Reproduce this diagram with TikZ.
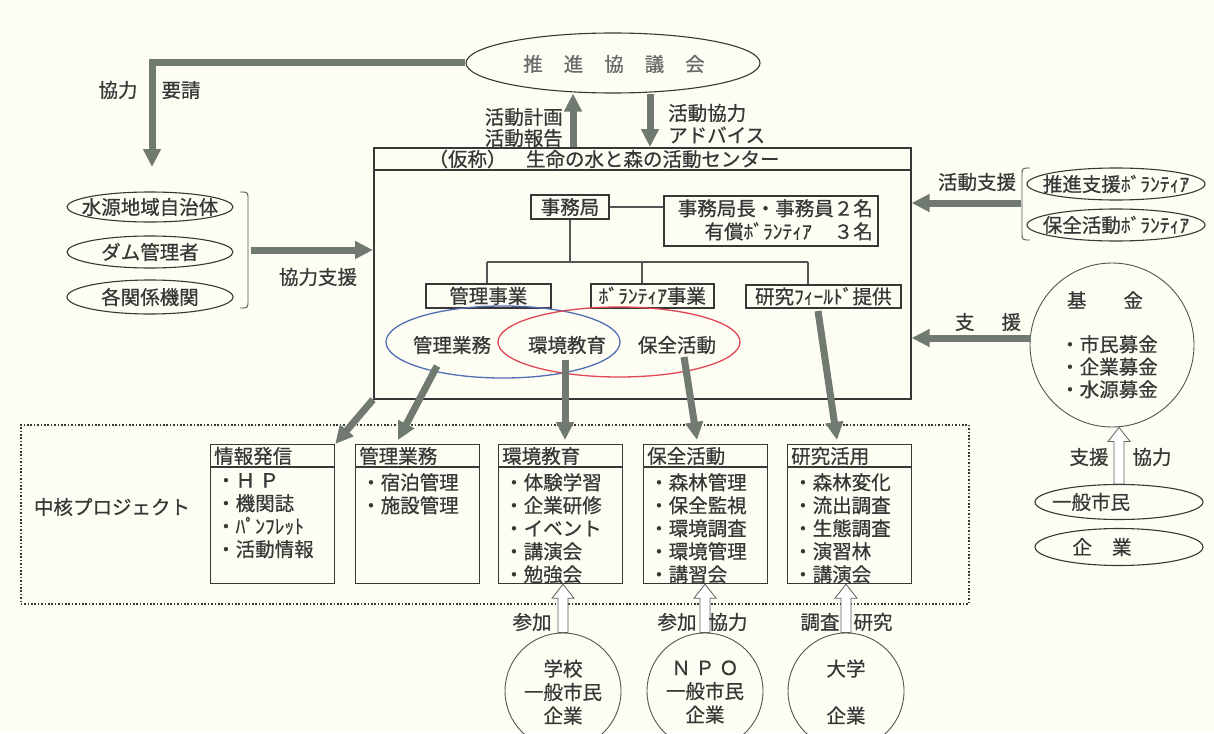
\documentclass[tikz,border=0pt]{standalone}
\usepackage{fontspec}
\setmainfont{Noto Sans CJK JP}[FakeBold=0.6]
\usetikzlibrary{shapes.geometric,arrows.meta,calc}
\definecolor{bg}{RGB}{253,253,243}
\definecolor{ink}{RGB}{55,55,55}
\definecolor{arrg}{RGB}{112,122,112}
\definecolor{blueov}{RGB}{80,110,180}
\definecolor{redov}{RGB}{225,70,85}
\tikzset{
  box/.style={draw=ink, line width=1.6pt, inner sep=0pt, anchor=north west},
  ell/.style={ellipse, draw=ink, line width=1.1pt, inner sep=0pt},
  circ/.style={circle, draw=ink!85, line width=0.9pt, inner sep=0pt},
  txt/.style={inner sep=0pt},
  tree/.style={draw=ink!85, line width=1.2pt},
  thickarr/.style={draw=arrg, line width=7pt, line join=miter, -{Triangle[length=18pt,width=17pt]}},
  hollowup/.style={draw=ink!80, fill=white, line width=0.8pt,
    to path={let \p1=(\tikztostart), \p2=(\tikztotarget) in
      (\x1-5pt,\y1) -- (\x1-5pt,\y2-14pt) -- (\x1-11pt,\y2-14pt) -- (\x1,\y2)
      -- (\x1+11pt,\y2-14pt) -- (\x1+5pt,\y2-14pt) -- (\x1+5pt,\y1) -- cycle}},
}
\newcommand\projbox[4]{%
  \node[box, line width=1.2pt, minimum width=124pt, minimum height=139pt] (#1) at (#2,444) {};
  \draw[line width=1.2pt, draw=ink] ($(#1.north west)+(0,23)$) -- ($(#1.north east)+(0,23)$);
  \node[txt, anchor=west] at ($(#1.north west)+(4,12)$) {#3};
  \node[txt, anchor=north west, align=left, font=\fontsize{19.5}{23}\selectfont] at ($(#1.north west)+(6,29)$) {#4};
}
\begin{document}
\begin{tikzpicture}[x=1pt,y=-1pt, font=\fontsize{19.5}{23}\selectfont, text=ink]
\fill[bg] (0,0) rectangle (1214,733);
\useasboundingbox (0,0) rectangle (1214,733);

% top council
\node[ell, minimum width=294pt, minimum height=60pt] (kyogikai) at (613,63) {};
\node[txt, text=ink!75] at (614,64) {推\hspace{21pt}進\hspace{21pt}協\hspace{21pt}議\hspace{21pt}会};

% L arrow
\coordinate (ltip) at (152,167);
\draw[thickarr] (kyogikai.west) -| (ltip);
\node[txt] at (118,90) {協力};
\node[txt] at (181,90) {要請};

% main centre box
\node[box, minimum width=537pt, minimum height=251pt] (center) at (373,147) {};
\draw[line width=2.2pt, draw=ink] ($(center.north west)+(0,23)$) -- ($(center.north east)+(0,23)$);
\node[txt] (title) at (604,159) {（仮称）　生命の水と森の活動センター};

% up / down arrows
\coordinate (ux) at (573,147);
\coordinate (dx) at (650,147);
\draw[thickarr] (center.north -| ux) -- (kyogikai.south -| ux);
\draw[thickarr] (kyogikai.south -| dx) -- (center.north -| dx);
\node[txt, anchor=east] at (563,117) {活動計画};
\node[txt, anchor=east] at (563,138) {活動報告};
\node[txt, anchor=west] at (668,113) {活動協力};
\node[txt, anchor=west] at (668,135) {アドバイス};

% office
\node[box, anchor=center, minimum width=78pt, minimum height=24pt] (jim) at (570,207) {事務局};
\node[box, minimum width=214pt, minimum height=50pt] (staff) at (663,195) {};
\node[txt, anchor=north east] at (873,199) {事務局長・事務員２名};
\node[txt, anchor=north east] at (873,222) {有償ﾎﾞﾗﾝﾃｨｱ\hspace{22pt}３名};
\draw[tree] (jim.east) -- (jim.east -| staff.west);

% tree
\coordinate (bus) at (570,262);
\coordinate (d1) at (487,262);
\coordinate (d2) at (642,262);
\coordinate (d3) at (808,262);
\node[box, minimum width=125pt, minimum height=24pt] (kanri) at (425,283) {管理事業};
\node[box, minimum width=123pt, minimum height=24pt] (vol) at (590,283) {ﾎﾞﾗﾝﾃｨｱ事業};
\node[box, minimum width=155pt, minimum height=23pt] (field) at (745,284) {研究ﾌｨｰﾙﾄﾞ提供};
\draw[tree] (jim.south) -- (bus);
\draw[tree] (d1) -- (d3);
\draw[tree] (d1) -- (d1 |- kanri.north);
\draw[tree] (d2) -- (d2 |- vol.north);
\draw[tree] (d3) -- (d3 |- field.north);

% ovals
\node[ellipse, draw=blueov, line width=1.3pt, minimum width=234pt, minimum height=72pt, inner sep=0pt] (ovb) at (503,342) {};
\node[ellipse, draw=redov, line width=1.3pt, minimum width=242pt, minimum height=70pt, inner sep=0pt] (ovr) at (619,342) {};
\node[txt] at (452,345) {管理業務};
\node[txt] at (567,345) {環境教育};
\node[txt] at (677,345) {保全活動};

% core project frame
\node[draw=ink, dash pattern=on 1.6pt off 1.8pt, line width=1.6pt, minimum width=948pt, minimum height=179pt, anchor=north west, inner sep=0pt] (core) at (20,424) {};
\node[txt] at (112,507) {中核プロジェクト};

\projbox{pe1}{210}{情報発信}{・Ｈ Ｐ\\・機関誌\\・ﾊﾟﾝﾌﾚｯﾄ\\・活動情報}
\projbox{pe2}{355}{管理業務}{・宿泊管理\\・施設管理}
\projbox{pe3}{498}{環境教育}{・体験学習\\・企業研修\\・イベント\\・講演会\\・勉強会}
\projbox{pe4}{643}{保全活動}{・森林管理\\・保全監視\\・環境調査\\・環境管理\\・講習会}
\projbox{pe5}{787}{研究活用}{・森林変化\\・流出調査\\・生態調査\\・演習林\\・講演会}

% down arrows into projects
\coordinate (a2s) at (437,366);
\coordinate (a2e) at (398,440);
\coordinate (a3s) at (565,360);
\coordinate (a3e) at (565,440);
\coordinate (a4s) at (684,357);
\coordinate (a4e) at (697,440);
\coordinate (a5s) at (818,311);
\coordinate (a5e) at (837,440);
\draw[thickarr] (center.south west) -- (pe1.north east);
\draw[thickarr] (a2s) -- (a2e);
\draw[thickarr] (a3s) -- (a3e);
\draw[thickarr] (a4s) -- (a4e);
\draw[thickarr] (a5s) -- (a5e);

% bottom circles
\node[circ, minimum size=116pt] (c1) at (563,691) {};
\node[circ, minimum size=116pt] (c2) at (705,691) {};
\node[circ, minimum size=116pt] (c3) at (846,691) {};
\node[txt, align=center, font=\fontsize{19.5}{23.5}\selectfont] at (563,692) {学校\\一般市民\\企業};
\node[txt, align=center, font=\fontsize{19.5}{23.5}\selectfont] at (705,692) {Ｎ Ｐ Ｏ\\一般市民\\企業};
\node[txt, align=center, font=\fontsize{19.5}{23.5}\selectfont] at (846,692) {大学\\\mbox{}\\企業};
\draw[hollowup] (c1.north) to (pe3.south);
\draw[hollowup] (c2.north) to (pe4.south);
\draw[hollowup] (c3.north) to (pe5.south);
\node[txt] at (532,622) {参加};
\node[txt] at (677,622) {参加};
\node[txt] at (728,622) {協力};
\node[txt] at (820,622) {調査};
\node[txt] at (873,622) {研究};

% left partners
\node[ell, minimum width=166pt, minimum height=30pt] (l1) at (150,207) {};
\node[ell, minimum width=166pt, minimum height=32pt] (l2) at (150,252) {};
\node[ell, minimum width=166pt, minimum height=34pt] (l3) at (150,297) {};
\node[txt] at (l1) {水源地域自治体};
\node[txt] at (l2) {ダム管理者};
\node[txt] at (l3) {各関係機関};
\draw[ink!85, line width=0.9pt] (240,192) .. controls (248,192) .. (248,200) -- (248,300) .. controls (248,308) .. (240,308);
\coordinate (lb) at (251,250);
\draw[thickarr] (lb) -- (lb -| center.west);
\node[txt] at (318,277) {協力支援};

% right volunteers
\node[ell, minimum width=178pt, minimum height=32pt] (v1) at (1116,184) {};
\node[ell, minimum width=178pt, minimum height=32pt] (v2) at (1116,225) {};
\node[txt] at (v1) {推進支援ﾎﾞﾗﾝﾃｨｱ};
\node[txt] at (v2) {保全活動ﾎﾞﾗﾝﾃｨｱ};
\draw[ink!85, line width=0.9pt] (1030,168) .. controls (1022,168) .. (1022,176) -- (1022,232) .. controls (1022,240) .. (1030,240);
\node[txt] at (977,182) {活動支援};
\coordinate (rb) at (1021,203);
\draw[thickarr] (rb) -- (rb -| center.east);

% fund
\node[circ, minimum size=164pt] (fund) at (1112,345) {};
\node[txt] at (1105,300) {基\hspace{37pt}金};
\node[txt, anchor=north west, align=left, font=\fontsize{19.5}{22.5}\selectfont] at (1060,335) {・市民募金\\・企業募金\\・水源募金};
\coordinate (fb) at (1031,338);
\draw[thickarr] (fb) -- (fb -| center.east);
\node[txt] at (988,322) {支\hspace{27pt}援};

% citizens / companies
\node[ell, minimum width=168pt, minimum height=35pt] (gen) at (1119,502) {};
\node[ell, minimum width=168pt, minimum height=37pt] (corp) at (1119,547) {};
\node[txt] at (1091,502) {一般市民};
\node[txt] at (1102,547) {企\hspace{20pt}業};
\draw[hollowup] (gen.north) to (fund.south);
\node[txt] at (1089,457) {支援};
\node[txt] at (1152,457) {協力};
\end{tikzpicture}
\end{document}
